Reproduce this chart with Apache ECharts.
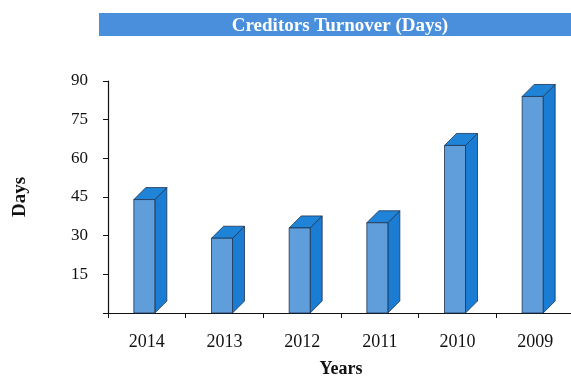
<!DOCTYPE html>
<html>
<head>
<meta charset="utf-8">
<script src="https://cdn.jsdelivr.net/npm/echarts@6/dist/echarts.min.js"></script>
<style>
  html, body { margin: 0; padding: 0; background: #fff; }
  #chart { width: 571px; height: 377px; }
</style>
</head>
<body>
<div id="chart"></div>
<script>
// Creditors turnover in days, by year
const years = ['2014', '2013', '2012', '2011', '2010', '2009'];
const days = [44, 29, 33, 35, 65, 84];
const yTicks = [15, 30, 45, 60, 75, 90];

const chart = echarts.init(document.getElementById('chart'));

const FRONT = '#5f9edb';
const SIDE = '#1a7cd2';
const TOP = '#1f84d8';
const EDGE = '#1d3352';

// Draws a box-shaped column: front face, right side and top
function renderBox(params, api) {
  const top = api.coord([api.value(0), api.value(1)]);
  const base = api.coord([api.value(0), 0]);
  const x0 = top[0] - 13;
  const x1 = top[0] + 8;
  const dx = 12, dy = 12;
  const yt = top[1], yb = base[1];
  const lineStyle = { stroke: EDGE, lineWidth: 0.8 };
  return {
    type: 'group',
    children: [
      {
        type: 'polygon',
        shape: { points: [[x1, yt], [x1 + dx, yt - dy], [x1 + dx, yb - dy], [x1, yb]] },
        style: Object.assign({ fill: SIDE }, lineStyle)
      },
      {
        type: 'polygon',
        shape: { points: [[x0, yt], [x0 + dx, yt - dy], [x1 + dx, yt - dy], [x1, yt]] },
        style: Object.assign({ fill: TOP }, lineStyle)
      },
      {
        type: 'rect',
        shape: { x: x0, y: yt, width: x1 - x0, height: yb - yt },
        style: Object.assign({ fill: FRONT }, lineStyle)
      }
    ]
  };
}

const serif = '"Liberation Serif", "DejaVu Serif", serif';

chart.setOption({
  animation: false,
  backgroundColor: '#fff',
  graphic: [
    {
      type: 'rect',
      shape: { x: 99, y: 13, width: 480, height: 23 },
      style: { fill: '#4a8fdc' },
      z: 1
    },
    {
      type: 'text',
      x: 340, y: 26,
      style: {
        text: 'Creditors Turnover (Days)',
        fill: '#fff',
        font: 'bold 19px ' + serif,
        textAlign: 'center',
        textVerticalAlign: 'middle'
      },
      z: 2
    }
  ],
  grid: { left: 108, right: -3, top: 81, bottom: 64, containLabel: false, outerBoundsMode: 'none' },
  xAxis: {
    type: 'category',
    data: years,
    name: 'Years',
    nameLocation: 'middle',
    nameGap: 47,
    nameTextStyle: { fontFamily: serif, fontWeight: 'bold', fontSize: 18, color: '#111' },
    axisLine: { lineStyle: { color: '#111', width: 1.2 } },
    axisTick: { show: true, length: 5, lineStyle: { color: '#111' } },
    axisLabel: { fontFamily: serif, fontSize: 18, color: '#111', margin: 20 }
  },
  yAxis: {
    type: 'value',
    min: 0,
    max: 90,
    interval: 15,
    name: 'Days',
    nameLocation: 'middle',
    nameGap: 78,
    nameRotate: 90,
    nameTextStyle: { fontFamily: serif, fontWeight: 'bold', fontSize: 19, color: '#111' },
    axisLine: { show: true, lineStyle: { color: '#111', width: 1.2 } },
    axisTick: { show: true, length: 5, lineStyle: { color: '#111' } },
    splitLine: { show: false },
    axisLabel: {
      fontFamily: serif, fontSize: 17, color: '#111', margin: 20,
      formatter: v => (yTicks.includes(v) ? String(v) : '')
    }
  },
  series: [{
    type: 'custom',
    renderItem: renderBox,
    data: days.map((d, i) => [i, d]),
    encode: { x: 0, y: 1 },
    clip: false
  }]
});
</script>
</body>
</html>
